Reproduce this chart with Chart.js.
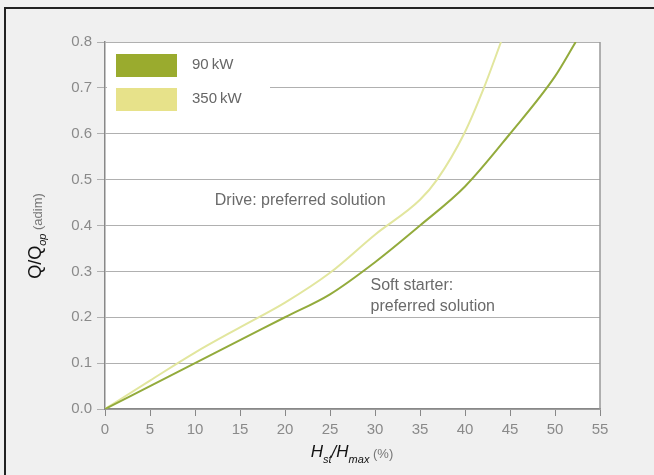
<!DOCTYPE html>
<html>
<head>
<meta charset="utf-8">
<script src="https://cdn.jsdelivr.net/npm/chart.js@4.4.0/dist/chart.umd.min.js"></script>
<style>
  body { margin: 0; background: #f0f0f0; }
  #wrap { position: relative; width: 654px; height: 475px; overflow: hidden; }
  #frame { position: absolute; left: 4px; top: 7px; width: 700px; height: 500px;
           border-left: 2px solid #222; border-top: 2px solid #222; }
  canvas { position: absolute; left: 0; top: 0; }
</style>
</head>
<body>
<div id="wrap">
  <div id="frame"></div>
  <canvas id="chart" width="654" height="475"></canvas>
</div>
<script>
// values
const x90 = [0, 5, 10, 15, 20, 25, 30, 35, 40, 45, 50, 52.3];
const y90 = [0, 0.05, 0.10, 0.15, 0.20, 0.25, 0.32, 0.40, 0.485, 0.60, 0.725, 0.80];
const x350 = [0, 5, 10, 15, 20, 25, 30, 35, 36.9, 39.9, 42.1, 44];
const y350 = [0, 0.062, 0.123, 0.178, 0.232, 0.297, 0.38, 0.456, 0.50, 0.60, 0.70, 0.80];
const seriesLabels = ["90\u2009kW", "350\u2009kW"];
const noteDrive = ["Drive: preferred solution"];
const noteSoft = ["Soft starter:", "preferred solution"];

const FONT = "'Liberation Sans', Arial, sans-serif";

function toPoints(xs, ys) {
  return xs.map((x, i) => ({ x: x, y: ys[i] }));
}

// draw a run of text pieces (font, colour, baseline shift) starting at x
function drawRuns(ctx, runs, x, y) {
  runs.forEach((r) => {
    ctx.font = r.font;
    ctx.fillStyle = r.color;
    ctx.fillText(r.text, x, y + (r.shift || 0));
    x += ctx.measureText(r.text).width;
  });
}

function runsWidth(ctx, runs) {
  let w = 0;
  runs.forEach((r) => {
    ctx.font = r.font;
    w += ctx.measureText(r.text).width;
  });
  return w;
}

const decor = {
  id: "decor",
  beforeDraw(chart) {
    const { ctx, chartArea: a } = chart;
    ctx.save();
    ctx.fillStyle = "#ffffff";
    ctx.fillRect(a.left, a.top, a.right - a.left, a.bottom - a.top);
    ctx.restore();
  },
  beforeDatasetsDraw(chart) {
    const { ctx, chartArea: a } = chart;
    ctx.save();
    // legend sits on top of the 0.7 grid line
    ctx.fillStyle = "#ffffff";
    ctx.fillRect(a.left + 2, a.top + 8, 163, 70);
    ctx.strokeStyle = "#999";
    ctx.lineWidth = 1.5;
    ctx.beginPath();
    ctx.moveTo(a.right, a.top);
    ctx.lineTo(a.right, a.bottom);
    ctx.stroke();
    ctx.restore();
  },
  afterDraw(chart) {
    const { ctx, chartArea: a, scales } = chart;
    const xs = scales.x, ys = scales.y;
    ctx.save();

    // legend
    chart.data.datasets.forEach((ds, i) => {
      const top = a.top + 12 + i * 34;
      ctx.fillStyle = ds.boxColor;
      ctx.fillRect(a.left + 11, top, 61, 23);
      ctx.font = "15px " + FONT;
      ctx.fillStyle = "#666";
      ctx.textBaseline = "middle";
      ctx.fillText(ds.label, a.left + 87, top + 11);
    });

    // notes
    ctx.font = "16px " + FONT;
    ctx.fillStyle = "#6a6a6a";
    ctx.textBaseline = "middle";
    ctx.fillText(noteDrive[0], xs.getPixelForValue(12.2), ys.getPixelForValue(0.455));
    noteSoft.forEach((t, i) => {
      ctx.fillText(t, xs.getPixelForValue(29.5), ys.getPixelForValue(0.268) + i * 21);
    });

    // x title
    ctx.textBaseline = "alphabetic";
    const xRuns = [
      { text: "H", font: "italic 17px " + FONT, color: "#111" },
      { text: "st", font: "italic 11px " + FONT, color: "#111", shift: 6 },
      { text: "/H", font: "italic 17px " + FONT, color: "#111" },
      { text: "max", font: "italic 11px " + FONT, color: "#111", shift: 6 },
      { text: " (%)", font: "13px " + FONT, color: "#777", shift: 1 },
    ];
    const xw = runsWidth(ctx, xRuns);
    drawRuns(ctx, xRuns, 352 - xw / 2, 457);

    // y title
    const yRuns = [
      { text: "Q/Q", font: "18px " + FONT, color: "#111" },
      { text: "op", font: "italic 11px " + FONT, color: "#111", shift: 5 },
      { text: " (adim)", font: "13px " + FONT, color: "#777", shift: 1 },
    ];
    const yw = runsWidth(ctx, yRuns);
    ctx.translate(41, 236);
    ctx.rotate(-Math.PI / 2);
    drawRuns(ctx, yRuns, -yw / 2, 0);

    ctx.restore();
  },
};

function init() {
  const ctx = document.getElementById("chart");
  new Chart(ctx, {
    type: "line",
    data: {
      datasets: [
        {
          label: seriesLabels[0],
          data: toPoints(x90, y90),
          borderColor: "#93ab3c",
          boxColor: "#9aab2e",
          borderWidth: 2,
          pointRadius: 0,
          cubicInterpolationMode: "monotone",
        },
        {
          label: seriesLabels[1],
          data: toPoints(x350, y350),
          borderColor: "#e2e69e",
          boxColor: "#e7e28a",
          borderWidth: 2,
          pointRadius: 0,
          cubicInterpolationMode: "monotone",
        },
      ],
    },
    options: {
      responsive: false,
      animation: false,
      layout: { padding: { top: 42, right: 54, left: 0, bottom: 0 } },
      plugins: { legend: { display: false }, tooltip: { enabled: false } },
      scales: {
        x: {
          type: "linear",
          min: 0,
          max: 55,
          afterFit: (s) => { s.height = 66; },
          ticks: { stepSize: 5, color: "#8a8a8a", padding: 5, font: { size: 15, family: FONT } },
          grid: { drawOnChartArea: false, color: "#888", tickLength: 7 },
          border: { color: "#888", width: 1.5 },
        },
        y: {
          min: 0,
          max: 0.8,
          afterFit: (s) => { s.width = 105; },
          ticks: {
            stepSize: 0.1,
            color: "#8a8a8a",
            padding: 5,
            font: { size: 15, family: FONT },
            callback: (v) => v.toFixed(1),
          },
          grid: { color: "#b0b0b0", tickLength: 8 },
          border: { color: "#888", width: 1.5 },
        },
      },
    },
    plugins: [decor],
  });
}

window.onload = init;
</script>
</body>
</html>
